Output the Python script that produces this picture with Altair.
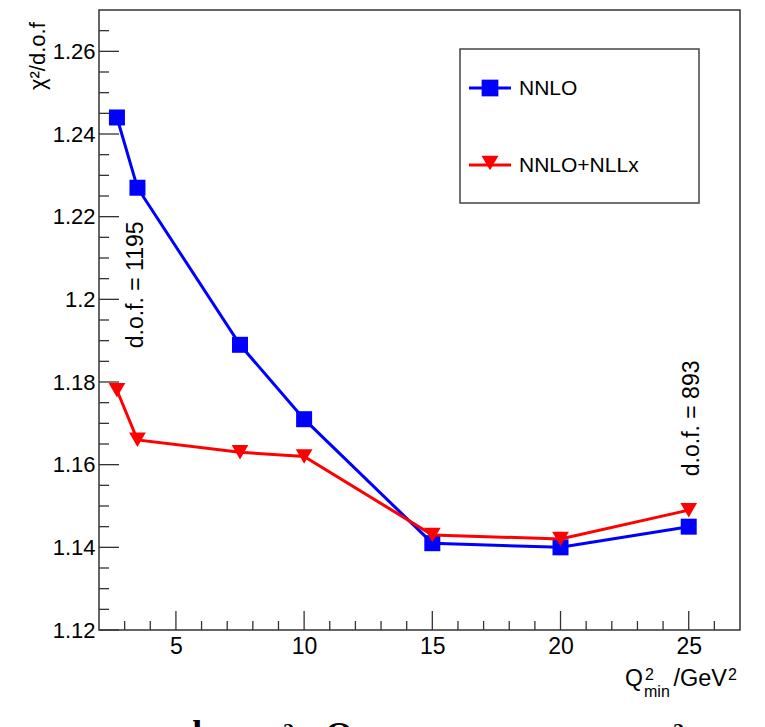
import altair as alt
import pandas as pd

# ---------------- data ----------------
q2_min = [2.7, 3.5, 7.5, 10, 15, 20, 25]
chi2_nnlo = [1.244, 1.227, 1.189, 1.171, 1.141, 1.140, 1.145]
chi2_nnlo_nllx = [1.178, 1.166, 1.163, 1.162, 1.143, 1.142, 1.149]

series_names = ["NNLO", "NNLO+NLLx"]
series_colors = ["#0000ff", "#ff0000"]
series_shapes = ["square", "triangle-down"]

x_major = [5, 10, 15, 20, 25]
x_minor = [3, 4, 6, 7, 8, 9, 11, 12, 13, 14, 16, 17, 18, 19, 21, 22, 23, 24, 26]
y_major = [1.12, 1.14, 1.16, 1.18, 1.2, 1.22, 1.24, 1.26]
y_minor = [1.125, 1.13, 1.135, 1.145, 1.15, 1.155, 1.165, 1.17, 1.175,
           1.185, 1.19, 1.195, 1.205, 1.21, 1.215, 1.225, 1.23, 1.235,
           1.245, 1.25, 1.255, 1.265]

dof_labels = ["d.o.f. = 1195", "d.o.f. = 893"]
dof_x = [3.72, 25.42]
dof_y = [1.2035, 1.1712]

# ---------------- layout ----------------
W, H = 641, 620
FONT = "Liberation Sans"
FRAME = "#333333"

xs = alt.Scale(domain=[2, 27], nice=False, zero=False)
ys = alt.Scale(domain=[1.12, 1.27], nice=False, zero=False)

rows = []
for name, vals in zip(series_names, [chi2_nnlo, chi2_nnlo_nllx]):
    for q, v in zip(q2_min, vals):
        rows.append({"series": name, "q2": q, "chi2": v})
df = pd.DataFrame(rows)

one = pd.DataFrame({"a": [0]})

layers = []

# axes (labels only)
axis_layer = alt.Chart(df).mark_point(opacity=0).encode(
    x=alt.X("q2:Q", scale=xs,
            axis=alt.Axis(values=x_major, title=None, grid=False, domain=False,
                          tickSize=0, labelFont=FONT, labelFontSize=23,
                          labelColor="black", labelPadding=5,
                          labelExpr="format(datum.value, '~g')")),
    y=alt.Y("chi2:Q", scale=ys,
            axis=alt.Axis(values=y_major, title=None, grid=False, domain=False,
                          tickSize=0, labelFont=FONT, labelFontSize=22,
                          labelColor="black", labelPadding=4,
                          labelExpr="format(datum.value, '~g')")),
)
layers.append(axis_layer)

# inward ticks
xmaj = alt.Chart(pd.DataFrame({"v": x_major})).mark_rule(color=FRAME, strokeWidth=1.3).encode(
    x=alt.X("v:Q", scale=xs), y=alt.value(H), y2=alt.value(H - 19))
xmin = alt.Chart(pd.DataFrame({"v": x_minor})).mark_rule(color=FRAME, strokeWidth=1.3).encode(
    x=alt.X("v:Q", scale=xs), y=alt.value(H), y2=alt.value(H - 9))
ymaj = alt.Chart(pd.DataFrame({"v": y_major})).mark_rule(color=FRAME, strokeWidth=1.3).encode(
    y=alt.Y("v:Q", scale=ys), x=alt.value(0), x2=alt.value(20))
ymin = alt.Chart(pd.DataFrame({"v": y_minor})).mark_rule(color=FRAME, strokeWidth=1.3).encode(
    y=alt.Y("v:Q", scale=ys), x=alt.value(0), x2=alt.value(10))
layers += [xmaj, xmin, ymaj, ymin]

# series: line then markers, series by series
for name, color, shape in zip(series_names, series_colors, series_shapes):
    base = alt.Chart(df).transform_filter(alt.datum.series == name)
    line = base.mark_line(color=color, strokeWidth=3).encode(
        x=alt.X("q2:Q", scale=xs), y=alt.Y("chi2:Q", scale=ys))
    pts = base.mark_point(color=color, filled=True, opacity=1, shape=shape,
                          size=256 if shape == "square" else 280).encode(
        x=alt.X("q2:Q", scale=xs), y=alt.Y("chi2:Q", scale=ys))
    layers += [line, pts]

# d.o.f. annotations
dof_df = pd.DataFrame({"t": dof_labels, "x": dof_x, "y": dof_y})
dof = alt.Chart(dof_df).mark_text(angle=270, align="center", baseline="alphabetic",
                                  font=FONT, fontSize=23, color="black").encode(
    x=alt.X("x:Q", scale=xs), y=alt.Y("y:Q", scale=ys), text="t:N")
layers.append(dof)

# legend (manual, ROOT style)
box = alt.Chart(one).mark_rect(fill="white", stroke="#444444", strokeWidth=1.5).encode(
    x=alt.value(361), x2=alt.value(600), y=alt.value(39), y2=alt.value(193))
layers.append(box)
for i, (name, color, shape) in enumerate(zip(series_names, series_colors, series_shapes)):
    yy = 78 + i * 77
    layers.append(alt.Chart(one).mark_rule(color=color, strokeWidth=3).encode(
        x=alt.value(370), x2=alt.value(412), y=alt.value(yy)))
    layers.append(alt.Chart(one).mark_point(color=color, filled=True, opacity=1, shape=shape,
                                            size=280 if shape == "square" else 290).encode(
        x=alt.value(391), y=alt.value(yy if shape == "square" else yy - 2)))
    layers.append(alt.Chart(one).mark_text(align="left", baseline="middle", font=FONT,
                                           fontSize=21, color="black", text=name).encode(
        x=alt.value(420), y=alt.value(yy + 1)))


def txt(s, x, y, size, align="left", angle=0):
    kw = dict(align=align, baseline="alphabetic", font=FONT, fontSize=size,
              color="black", text=s)
    if angle:
        kw["angle"] = angle
    return alt.Chart(one).mark_text(**kw).encode(x=alt.value(x), y=alt.value(y))


# x-axis title Q^2_min / GeV^2 (composed)
layers += [
    txt("Q", 625 - 99, 686 - 10, 23),
    txt("2", 645 - 99, 680 - 10, 16),
    txt("min", 644 - 99, 697 - 10, 16),
    txt("/GeV", 727 - 99, 686 - 10, 23.5, align="right"),
    txt("2", 728 - 99, 680 - 10, 16),
]

# y-axis title
layers.append(txt("\u03c7\u00b2/d.o.f", 45 - 99, 90 - 10, 22, angle=270))

# cut-off caption fragments at the bottom of the image
def serif(s, x, y, size):
    return alt.Chart(one).mark_text(align="left", baseline="alphabetic",
                                    font="Liberation Serif", fontWeight="bold",
                                    fontSize=size, color="black", text=s).encode(
        x=alt.value(x), y=alt.value(y))

layers += [
    serif("d", 182 - 99, 745 - 10, 36),
    serif("2", 283 - 99, 738 - 10, 22),
    serif("Q", 325 - 99, 747 - 10, 36),
    serif("2", 673 - 99, 738 - 10, 22),
]

chart = alt.layer(*layers).properties(
    width=W, height=H,
    autosize=alt.AutoSizeParams(type="none"),
    padding={"left": 99, "top": 10, "right": 25, "bottom": 97},
    background="white",
).configure_view(stroke=FRAME, strokeWidth=1.5)

chart.save("out.html", embed_options={"renderer": "svg", "actions": False})
